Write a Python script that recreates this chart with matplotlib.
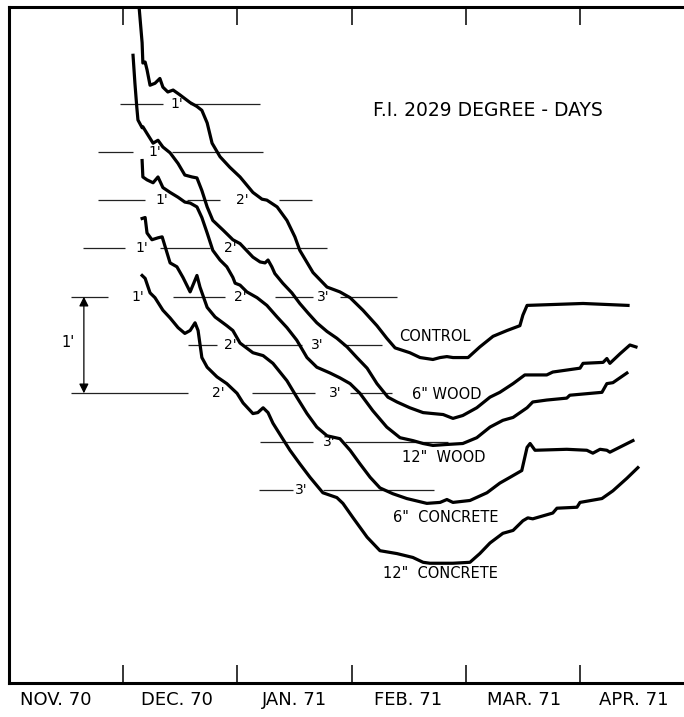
import numpy as np
import matplotlib
matplotlib.use("Agg")
import matplotlib.pyplot as plt

# frost penetration below each surface, winter 1970-71
# x = days after Nov. 1 1970 (chart uses equal month widths), y = depth in feet
control_days = [34.4, 35.2, 35.4, 36.0, 36.5, 37.3, 38.6, 39.9, 40.7, 42.0, 43.4, 45.2, 47.9, 49.7, 51.0, 52.4,
                53.7, 55.8, 58.4, 61.1, 64.5, 66.9, 68.2, 70.9, 73.5, 75.6, 76.9, 80.4, 84.1, 87.5, 90.2, 93.6,
                97.3, 99.9, 102.1, 106.0, 108.7, 112.1, 114.0, 115.8, 117.4, 121.4, 124.5, 128.0, 131.7, 135.1,
                135.9, 137.0, 151.8, 163.7]
control_depth = [0.00, 0.37, 0.58, 0.57, 0.65, 0.81, 0.79, 0.74, 0.83, 0.88, 0.86, 0.91, 0.99, 1.03, 1.07, 1.20,
                 1.41, 1.55, 1.66, 1.76, 1.92, 1.99, 2.00, 2.07, 2.21, 2.38, 2.52, 2.75, 2.90, 2.95, 3.01, 3.14,
                 3.30, 3.43, 3.53, 3.58, 3.63, 3.65, 3.63, 3.62, 3.63, 3.63, 3.52, 3.41, 3.35, 3.30,
                 3.19, 3.09, 3.07, 3.09]

wood6_days = [32.8, 33.3, 33.8, 34.1, 35.2, 35.4, 36.5, 38.1, 39.4, 40.7, 42.6, 44.7, 46.5, 48.4, 49.7, 51.0,
              52.4, 53.9, 56.6, 59.2, 61.1, 64.5, 66.4, 67.7, 68.5, 69.5, 70.3, 72.4, 74.8, 76.9, 79.1, 81.4,
              84.1, 86.7, 89.4, 92.0, 94.7, 97.3, 100.2, 102.6, 106.0, 109.5, 112.1, 114.8, 117.4, 120.0,
              123.7, 127.2, 129.8, 133.3, 136.4, 142.2, 143.8, 151.0, 151.8, 157.1, 158.1, 158.9, 161.6,
              164.2, 165.8]
wood6_depth = [0.00, 0.29, 0.54, 0.67, 0.75, 0.74, 0.81, 0.91, 0.88, 0.95, 1.01, 1.12, 1.24, 1.26, 1.27, 1.40,
               1.57, 1.71, 1.81, 1.91, 1.95, 2.09, 2.14, 2.15, 2.12, 2.19, 2.26, 2.36, 2.46, 2.57, 2.67, 2.77,
               2.86, 2.93, 3.02, 3.13, 3.24, 3.40, 3.54, 3.59, 3.65, 3.70, 3.71, 3.72, 3.76, 3.73,
               3.65, 3.54, 3.49, 3.40, 3.31, 3.31, 3.28, 3.24, 3.19, 3.18, 3.14, 3.19, 3.09,
               3.00, 3.02]

wood12_days = [35.2, 35.4, 36.5, 38.1, 39.4, 40.7, 42.6, 44.7, 46.5, 47.9, 49.7, 51.0, 52.4, 53.9, 55.8, 57.6,
               59.2, 59.8, 61.1, 62.9, 65.6, 68.2, 70.9, 73.5, 76.1, 78.8, 81.4, 84.9, 87.5, 90.2, 92.8, 96.2,
               99.9, 103.4, 106.8, 109.5, 112.1, 115.8, 120.0, 123.7, 127.2, 130.6, 133.3, 137.0, 138.5,
               142.2, 147.5, 148.3, 156.8, 158.1, 159.7, 163.4]
wood12_depth = [0.59, 0.76, 0.79, 0.82, 0.76, 0.87, 0.92, 0.97, 1.02, 1.03, 1.07, 1.18, 1.34, 1.52, 1.62, 1.69,
                1.80, 1.86, 1.88, 1.95, 2.01, 2.09, 2.21, 2.32, 2.45, 2.63, 2.73, 2.79, 2.84, 2.90, 3.00, 3.18,
                3.35, 3.46, 3.49, 3.52, 3.54, 3.53, 3.52, 3.46, 3.35, 3.28, 3.25, 3.15, 3.09,
                3.07, 3.05, 3.02, 2.99, 2.90, 2.89, 2.79]

conc6_days = [35.2, 36.0, 36.5, 37.8, 39.4, 40.5, 41.2, 42.6, 44.4, 46.0, 47.9, 49.7, 50.5, 52.4, 54.5, 57.6,
              59.2, 61.1, 64.5, 67.2, 69.8, 73.5, 76.1, 78.8, 81.4, 84.1, 87.5, 90.2, 92.8, 95.5, 98.1, 101.5,
              105.2, 110.5, 114.0, 115.8, 117.4, 121.9, 126.4, 129.8, 132.5, 135.6, 137.0, 137.8, 139.1,
              147.5, 152.8, 154.4, 156.3, 158.1, 158.9, 165.0]
conc6_depth = [0.69, 0.68, 0.84, 0.91, 0.89, 0.88, 0.97, 1.15, 1.19, 1.30, 1.45, 1.28, 1.40, 1.61, 1.71, 1.80,
               1.85, 1.98, 2.08, 2.11, 2.19, 2.37, 2.54, 2.71, 2.85, 2.94, 2.97, 3.09, 3.23, 3.37, 3.48, 3.54,
               3.59, 3.64, 3.63, 3.60, 3.63, 3.61, 3.53, 3.43, 3.37, 3.30, 3.06, 3.02, 3.09,
               3.08, 3.09, 3.12, 3.08, 3.09, 3.11, 2.99]

conc12_days = [35.2, 36.0, 37.3, 38.6, 40.7, 42.6, 44.7, 46.5, 47.9, 49.2, 50.0, 51.0, 52.4, 55.0, 57.6, 60.3,
               61.9, 64.5, 65.8, 67.2, 68.5, 69.8, 72.2, 74.3, 76.9, 79.6, 83.0, 86.7, 88.3, 91.0, 94.7, 98.1,
               102.6, 106.8, 109.5, 111.3, 117.4, 121.9, 124.5, 127.2, 130.6, 133.3, 135.9, 137.2, 138.5,
               143.8, 144.9, 150.2, 151.0, 156.8, 159.7, 163.4, 166.3]
conc12_depth = [0.78, 0.81, 0.96, 1.01, 1.14, 1.22, 1.32, 1.38, 1.35, 1.27, 1.35, 1.63, 1.73, 1.83, 1.90, 2.00,
                2.10, 2.21, 2.20, 2.15, 2.20, 2.31, 2.46, 2.59, 2.73, 2.87, 3.03, 3.08, 3.14, 3.29, 3.49, 3.63,
                3.66, 3.70, 3.75, 3.76, 3.76, 3.75, 3.66, 3.55, 3.45, 3.42, 3.32, 3.29, 3.30,
                3.24, 3.19, 3.18, 3.13, 3.09, 3.01, 2.88, 2.77]

curve_names = ['CONTROL', '6" WOOD', '12"  WOOD', '6"  CONCRETE', '12"  CONCRETE']
curve_days = [control_days, wood6_days, wood12_days, conc6_days, conc12_days]
curve_depths = [control_depth, wood6_depth, wood12_depth, conc6_depth, conc12_depth]

month_names = ['NOV. 70', 'DEC. 70', 'JAN. 71', 'FEB. 71', 'MAR. 71', 'APR. 71']
depth_marks = ["1'", "2'", "3'"]

# ---- layout (each curve is shifted down half a foot from the one above) ----
shift = 0.5
month_len = 30.2
label_pos = [(112.6, 3.41), (115.8, 4.01), (115.0, 4.67), (115.5, 5.29), (114.0, 5.87)]
month_label_x = [12.4, 44.4, 75.6, 105.4, 136.3, 165.2]

# reference lines: plotted level -> line pieces (days) and where the foot marks sit
ref_pieces = {
    1.0: [(29.3, 40.7), (47.9, 66.4)],
    1.5: [(23.5, 32.8), (43.1, 67.2)],
    2.0: [(23.5, 36.0), (47.1, 55.8), (71.4, 80.1)],
    2.5: [(19.6, 30.7), (39.9, 53.1), (62.9, 84.1)],
    3.0: [(16.4, 26.2), (43.4, 57.1), (70.3, 80.4), (87.5, 102.6)],
    3.5: [(47.3, 55.0), (62.4, 77.5), (88.3, 98.6)],
    4.0: [(16.4, 47.3), (64.3, 80.9), (90.2, 101.3)],
    4.5: [(66.4, 80.4), (88.8, 116.1)],
    5.0: [(66.1, 75.1), (83.0, 112.4)],
}
# (curve index, foot, x of the mark)
ref_marks = [(0, 1, 44.4), (0, 2, 61.6), (0, 3, 83.0),
             (1, 1, 38.6), (1, 2, 58.4), (1, 3, 81.4),
             (2, 1, 40.5), (2, 2, 61.3), (2, 3, 86.2),
             (3, 1, 35.2), (3, 2, 58.4), (3, 3, 84.6),
             (4, 1, 34.1), (4, 2, 55.3), (4, 3, 77.2)]

fig = plt.figure(figsize=(6.84, 7.17), dpi=100)
ax = fig.add_axes([9 / 684, 34 / 717, 675 / 684, 676 / 717])

for level, pieces in ref_pieces.items():
    for x0, x1 in pieces:
        ax.plot([x0, x1], [level, level], color='#222222', lw=0.9, solid_capstyle='butt')

for i, ft, xm in ref_marks:
    ax.text(xm, i * shift + ft, depth_marks[ft - 1], ha='center', va='center', fontsize=10,
            bbox=dict(facecolor='white', edgecolor='none', pad=0.5))

for i in range(len(curve_names)):
    ax.plot(curve_days[i], np.array(curve_depths[i]) + i * shift, color='black', lw=2.3,
            solid_joinstyle='round', zorder=3)
    ax.text(label_pos[i][0], label_pos[i][1], curve_names[i], ha='center', va='center', fontsize=10.5)

# one-foot scale bar
ax.annotate('', xy=(19.8, 3.0), xytext=(19.8, 4.0),
            arrowprops=dict(arrowstyle='<|-|>', color='black', lw=0.9, mutation_scale=14, shrinkA=0, shrinkB=0))
ax.text(15.6, 3.47, "1'", ha='center', va='center', fontsize=10.5)

ax.text(126.6, 1.07, 'F.I. 2029 DEGREE - DAYS', ha='center', va='center', fontsize=13.5,
        family=['Liberation Sans Narrow', 'DejaVu Sans'])

ax.set_xlim(0, 178.5)
ax.set_ylim(7.0, 0)
ax.set_xticks(month_len * np.arange(1, 6))
ax.set_xticks(month_label_x, minor=True)
ax.set_xticklabels(month_names, minor=True, fontsize=13, family=['Liberation Sans Narrow', 'DejaVu Sans'])
ax.tick_params(axis='x', which='major', direction='in', length=13, width=1.1, top=True, bottom=True,
               labelbottom=False)
ax.tick_params(axis='x', which='minor', length=0, pad=6)
ax.set_yticks([])
ax.spines['right'].set_visible(False)
for side in ['left', 'top', 'bottom']:
    ax.spines[side].set_linewidth(2.2)

fig.savefig('out.png', dpi=100)
